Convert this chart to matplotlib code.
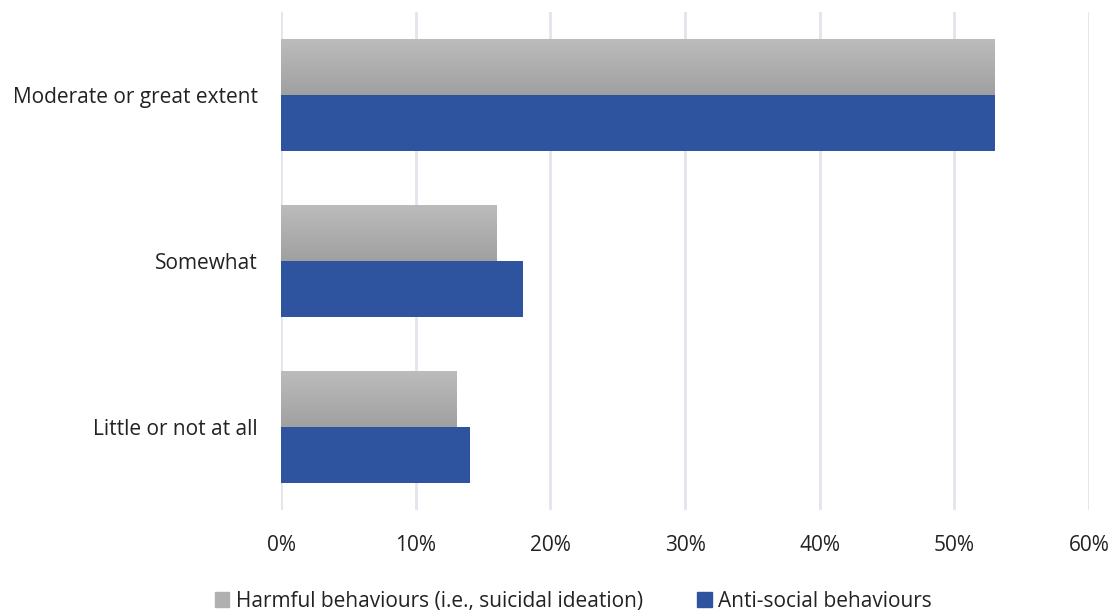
import numpy as np
import matplotlib
matplotlib.use("Agg")
import matplotlib.pyplot as plt
from matplotlib.patches import Patch

categories = ["Moderate or great extent", "Somewhat", "Little or not at all"]
harmful = [53, 16, 13]
antisocial = [53, 18, 14]
series_names = ["Harmful behaviours (i.e., suicidal ideation)", "Anti-social behaviours"]
xticks = [0, 10, 20, 30, 40, 50, 60]

BLUE = "#2E54A0"
GREY_TOP = np.array([0xBC, 0xBC, 0xBC]) / 255
GREY_BOT = np.array([0xA0, 0xA0, 0xA0]) / 255

plt.rcParams["font.family"] = ["Open Sans", "DejaVu Sans"]

fig = plt.figure(figsize=(11.13, 6.12), dpi=100)
ax = fig.add_axes([281 / 1113, 1 - 510 / 612, 808 / 1113, 498 / 612])

y = np.arange(len(categories))
h = 0.337
grey_bars = ax.barh(y - h / 2, harmful, height=h, color=GREY_BOT, zorder=2)
blue_bars = ax.barh(y + h / 2, antisocial, height=h, color=BLUE, zorder=2)

# vertical gradient on the grey bars
grad = np.linspace(0, 1, 64)[:, None, None]
img = GREY_TOP * (1 - grad) + GREY_BOT * grad
for b in grey_bars:
    x0, y0 = b.get_x(), b.get_y()
    ax.imshow(img, extent=(x0, x0 + b.get_width(), y0 + b.get_height(), y0),
              aspect="auto", zorder=3, interpolation="bilinear")

ax.set_xlim(0, 60)
ax.set_ylim(len(categories) - 0.5, -0.5)
ax.set_xticks(xticks)
ax.set_xticklabels([f"{t}%" for t in xticks])
ax.set_yticks(y)
ax.set_yticklabels(categories)
ax.tick_params(length=0, labelsize=15, colors="#222222")
ax.tick_params(axis="x", pad=18)
ax.tick_params(axis="y", pad=16.5)
ax.grid(axis="x", color="#E2E5EE", linewidth=2, zorder=0)
for s in ax.spines.values():
    s.set_visible(False)

handles = [Patch(color="#B0B0B0"), Patch(color=BLUE)]
fig.legend(handles, series_names, loc="lower center", ncol=2, frameon=False,
           bbox_to_anchor=(0.515, -0.03), fontsize=15, handlelength=0.7,
           handleheight=0.7, handletextpad=0.3, columnspacing=2.6,
           labelcolor="#222222")

fig.savefig("out.png", dpi=100, facecolor="white")
